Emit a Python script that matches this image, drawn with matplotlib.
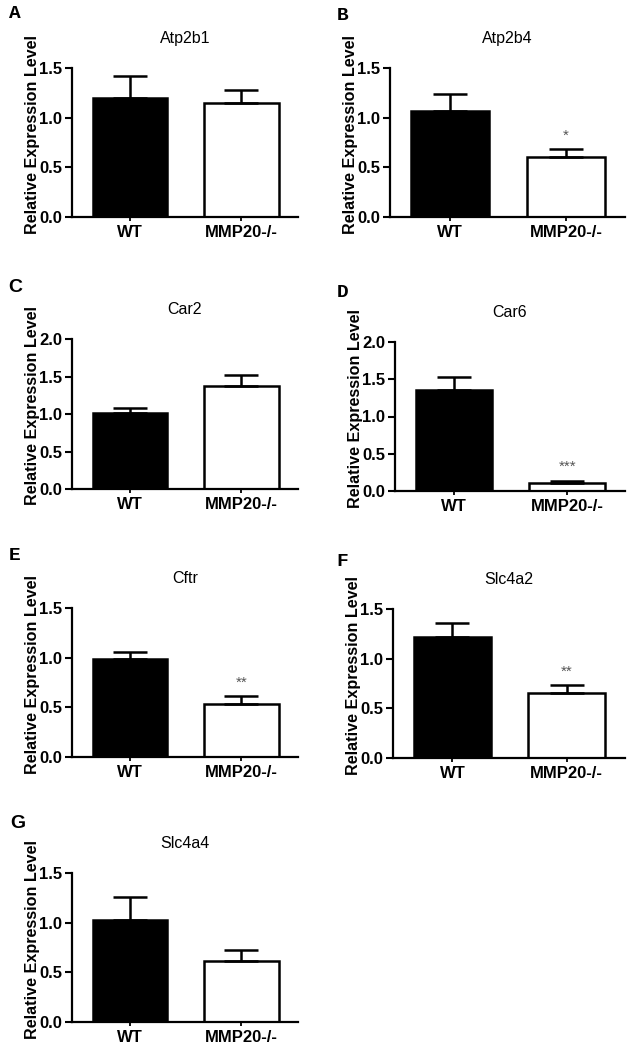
import matplotlib
matplotlib.use("Agg")
import matplotlib.pyplot as plt
import numpy as np

plt.rcParams['font.family'] = ['Liberation Sans', 'DejaVu Sans']

# data
genes = ["Atp2b1", "Atp2b4", "Car2", "Car6", "Cftr", "Slc4a2", "Slc4a4"]
letters = ["A", "B", "C", "D", "E", "F", "G"]
groups = ["WT", "MMP20-/-"]
wt_mean = [1.20, 1.07, 1.01, 1.35, 0.985, 1.22, 1.03]
wt_sem = [0.22, 0.17, 0.07, 0.18, 0.07, 0.14, 0.23]
ko_mean = [1.15, 0.60, 1.38, 0.11, 0.53, 0.65, 0.61]
ko_sem = [0.13, 0.08, 0.14, 0.03, 0.08, 0.08, 0.11]
signif = ["", "*", "", "***", "**", "**", ""]
y_max = [1.5, 1.5, 2.0, 2.0, 1.5, 1.5, 1.5]

W, H = 633, 1050
fig = plt.figure(figsize=(W / 100, H / 100), dpi=100)

# axes boxes in pixels: left, right, top, bottom
boxes = [
    (72, 298, 68, 217),
    (390, 625, 68, 217),
    (72, 298, 339, 489),
    (395, 625, 342, 491),
    (72, 298, 608, 757),
    (393, 625, 609, 758),
    (72, 298, 873, 1022),
]
letter_pos = [(15, 13), (343, 16), (15, 287), (343, 292), (15, 556), (342, 561), (18, 823)]
mono_letters = {"A", "B", "D", "E", "F"}

for i, gene in enumerate(genes):
    l, r, t, b = boxes[i]
    ax = fig.add_axes([l / W, 1 - b / H, (r - l) / W, (b - t) / H])
    x = np.arange(2)
    means = [wt_mean[i], ko_mean[i]]
    sems = [wt_sem[i], ko_sem[i]]
    ax.bar(x, means, width=0.67, color=["black", "white"], edgecolor="black",
           linewidth=1.8, zorder=2)
    ax.errorbar(x, means, yerr=[[0, 0], sems], fmt="none", ecolor="black",
                elinewidth=1.8, capsize=12, capthick=1.8, zorder=3)
    if signif[i]:
        ax.annotate(signif[i], xy=(1, ko_mean[i] + ko_sem[i]), xytext=(0, 5),
                    textcoords="offset points", ha="center", va="bottom",
                    fontsize=11, color="#555555")
    ax.set_xlim(-0.52, 1.51)
    ax.set_ylim(0, y_max[i])
    ticks = np.arange(0, y_max[i] + 0.01, 0.5)
    ax.set_yticks(ticks)
    ax.set_yticklabels([f"{v:.1f}" for v in ticks], fontweight="bold", fontsize=12)
    ax.set_xticks(x)
    ax.set_xticklabels(groups, fontweight="bold", fontsize=12)
    ax.tick_params(axis="x", length=3, width=1.3, pad=3)
    ax.tick_params(axis="y", length=5, width=1.5, pad=2)
    for s in ["top", "right"]:
        ax.spines[s].set_visible(False)
    for s in ["left", "bottom"]:
        ax.spines[s].set_linewidth(1.6)
    ax.set_ylabel("Relative Expression Level", fontweight="bold", fontsize=11.6)
    ax.yaxis.set_label_coords(-32 / (r - l), 0.557)
    ax.set_title(gene, fontsize=11.5, pad=18)
    lx, ly = letter_pos[i]
    fam = ["Liberation Mono"] if letters[i] in mono_letters else ["Liberation Sans"]
    fig.text(lx / W, 1 - ly / H, letters[i], fontsize=14, fontweight="bold",
             family=fam, ha="center", va="center")

fig.savefig("out.png", dpi=100)
